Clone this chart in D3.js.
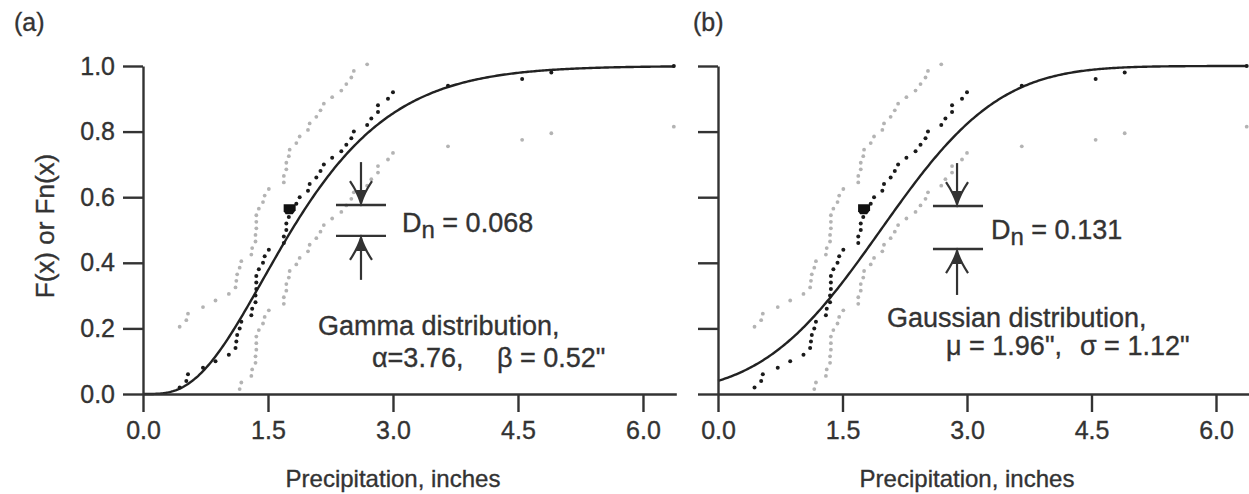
<!DOCTYPE html>
<html>
<head>
<meta charset="utf-8">
<script src="https://cdn.jsdelivr.net/npm/d3@7"></script>
<style>
  body { margin: 0; background: #fff; }
  svg { display: block; }
  text { font-family: "Liberation Sans", Arial, Helvetica, sans-serif; fill: #333; stroke: #333; stroke-width: 0.35px; }
</style>
</head>
<body>
<svg id="chart" width="1249" height="494"></svg>
<script>
// Ithaca January precipitation totals, 1933-1982 (inches)
const precipitation = [0.44, 1.18, 2.69, 2.08, 3.66, 1.72, 2.82, 0.72, 1.46, 1.30,
                       1.35, 0.54, 2.74, 1.13, 2.50, 1.72, 2.27, 2.82, 1.98, 2.44,
                       2.53, 2.00, 1.12, 2.13, 1.36, 4.90, 2.94, 1.75, 1.69, 1.88,
                       1.31, 1.76, 2.17, 2.38, 1.16, 1.39, 1.36, 1.03, 1.11, 1.35,
                       1.44, 1.84, 1.69, 3.00, 1.36, 6.37, 4.55, 0.52, 0.87, 1.51];
const xTicks = [0, 1.5, 3.0, 4.5, 6.0];
const yTicks = [0, 0.2, 0.4, 0.6, 0.8, 1.0];
const panelLabels = ["(a)", "(b)"];
const fitNames = ["Gamma distribution,", "Gaussian distribution,"];
const fitParams = [["\u03b1=3.76,", "\u03b2 = 0.52\""], ["\u03bc = 1.96\",", "\u03c3 = 1.12\""]];
const ksStats = [0.068, 0.131];
const gammaShape = 3.76, gammaScale = 0.52;
const gaussMean = 1.96, gaussSd = 1.12;
const ksBand = 0.185;        // half-width of the grey confidence band
const highlightRank = 28;    // point of maximum difference

// ---- theoretical CDFs ----
function lnGamma(z) {
  const g = 7, c = [0.99999999999980993, 676.5203681218851, -1259.1392167224028,
    771.32342877765313, -176.61502916214059, 12.507343278686905,
    -0.13857109526572012, 9.9843695780195716e-6, 1.5056327351493116e-7];
  z -= 1;
  let a = c[0];
  const t = z + g + 0.5;
  for (let i = 1; i < g + 2; i++) a += c[i] / (z + i);
  return 0.5 * Math.log(2 * Math.PI) + (z + 0.5) * Math.log(t) - t + Math.log(a);
}
function gammaCdf(x, k, theta) {
  if (x <= 0) return 0;
  const z = x / theta;
  let term = 1 / k, sum = term;
  for (let n = 1; n < 500; n++) {
    term *= z / (k + n);
    sum += term;
    if (term < sum * 1e-12) break;
  }
  return Math.min(1, sum * Math.exp(-z + k * Math.log(z) - lnGamma(k)));
}
function erf(x) {
  const s = Math.sign(x); x = Math.abs(x);
  const t = 1 / (1 + 0.3275911 * x);
  const y = 1 - (((((1.061405429 * t - 1.453152027) * t) + 1.421413741) * t - 0.284496736) * t + 0.254829592) * t * Math.exp(-x * x);
  return s * y;
}
function normalCdf(x, m, s) { return 0.5 * (1 + erf((x - m) / (s * Math.SQRT2))); }

// empirical CDF, i/n
const sorted = precipitation.slice().sort(d3.ascending);
const n = sorted.length;
const empirical = sorted.map((v, i) => ({ x: v, f: (i + 1) / n, rank: i + 1 }));

const svg = d3.select("#chart");
const y = d3.scaleLinear().domain([0, 1]).range([394, 66]);

const panels = [
  { x: d3.scaleLinear().domain([0, 6.4]).range([143, 143 + 6.4 * 83.33]),
    cdf: v => gammaCdf(v, gammaShape, gammaScale), yLabels: true,
    ann: { arrow: 2.616, bar0: 2.316, bar1: 2.916, top: 0.576, bot: 0.482, downFrom: 0.707, upTo: 0.348,
           tx: 3.108, ty: 0.494, nameX: 2.10, nameY: 0.180, p1: 2.748, p2: 4.248, pY: 0.082 } },
  { x: d3.scaleLinear().domain([0, 6.4]).range([718, 718 + 6.4 * 83.0]),
    cdf: v => normalCdf(v, gaussMean, gaussSd), yLabels: false,
    ann: { arrow: 2.88, bar0: 2.59, bar1: 3.193, top: 0.573, bot: 0.442, downFrom: 0.704, upTo: 0.302,
           tx: 3.289, ty: 0.473, nameX: 2.036, nameY: 0.204, p1: 2.747, p2: 4.361, pY: 0.119 } }
];

const curveXs = d3.range(0, 6.3901, 0.02);

panels.forEach((p, pi) => {
  const g = svg.append("g");
  const x = p.x;

  // grey confidence band dots
  const band = [];
  empirical.forEach(d => {
    const up = d.f + ksBand, lo = d.f - ksBand;
    if (up <= 1.006) band.push({ x: d.x, f: up });
    if (lo >= 0) band.push({ x: d.x, f: lo });
  });
  g.append("g").selectAll("circle").data(band).join("circle")
    .attr("cx", d => x(d.x)).attr("cy", d => y(d.f)).attr("r", 1.9)
    .attr("fill", "#b3b3b3");

  // theoretical CDF
  g.append("path")
    .datum(curveXs.map(v => [v, p.cdf(v)]))
    .attr("d", d3.line().x(d => x(d[0])).y(d => y(d[1])))
    .attr("fill", "none").attr("stroke", "#222").attr("stroke-width", 2.4);

  // empirical points
  g.append("g").selectAll("circle").data(empirical.filter(d => d.rank !== highlightRank)).join("circle")
    .attr("cx", d => x(d.x)).attr("cy", d => y(d.f)).attr("r", 2)
    .attr("fill", "#1a1a1a");
  const h = empirical[highlightRank - 1];
  g.append("path")
    .attr("d", `M${x(h.x) - 6},${y(h.f) - 6} h12 v6 l-3,4 h-7 l-2,-3 Z`)
    .attr("fill", "#111");

  // axes
  const xAxis = d3.axisBottom(x).tickValues(xTicks).tickSize(18).tickPadding(9).tickSizeOuter(0)
    .tickFormat(d3.format(".1f"));
  const gx = g.append("g").attr("transform", `translate(0,${y(0)})`).call(xAxis);
  const yAxis = d3.axisLeft(y).tickValues(yTicks).tickSize(20).tickPadding(8).tickSizeOuter(0)
    .tickFormat(p.yLabels ? d3.format(".1f") : () => "");
  const gy = g.append("g").attr("transform", `translate(${x(0)},0)`).call(yAxis);
  [gx, gy].forEach(a => {
    a.selectAll("path, line").attr("stroke", "#333").attr("stroke-width", 2.4);
    a.selectAll("text").attr("fill", "#333").style("font-size", "25px")
      .style("font-family", "'Liberation Sans', Arial, sans-serif");
  });

  // axis title
  g.append("text").attr("x", x(3.0)).attr("y", 487).attr("text-anchor", "middle")
    .style("font-size", "24px").text("Precipitation, inches");

  // panel label
  g.append("text").attr("x", pi === 0 ? 14 : 693).attr("y", 31)
    .style("font-size", "25px").text(panelLabels[pi]);

  // D_n annotation: two bars with opposing arrows
  const a = p.ann;
  const ax = x(a.arrow);
  const ink = "#333";
  [a.top, a.bot].forEach(v => {
    g.append("line").attr("x1", x(a.bar0)).attr("x2", x(a.bar1))
      .attr("y1", y(v)).attr("y2", y(v)).attr("stroke", ink).attr("stroke-width", 2.4);
  });
  function arrow(fromY, tipY) {
    const dir = tipY > fromY ? 1 : -1;
    g.append("line").attr("x1", ax).attr("x2", ax).attr("y1", fromY).attr("y2", tipY)
      .attr("stroke", ink).attr("stroke-width", 2.2);
    g.append("path")
      .attr("d", `M${ax - 11},${tipY - dir * 22} Q${ax - 3},${tipY - dir * 10} ${ax},${tipY} Q${ax + 3},${tipY - dir * 10} ${ax + 11},${tipY - dir * 22}`)
      .attr("fill", "none").attr("stroke", ink).attr("stroke-width", 2.2);
    g.append("path")
      .attr("d", `M${ax - 5},${tipY - dir * 13} L${ax},${tipY} L${ax + 5},${tipY - dir * 13} Z`)
      .attr("fill", ink);
  }
  arrow(y(a.downFrom), y(a.top) - 2);
  arrow(y(a.upTo), y(a.bot) + 2);

  const dt = g.append("text").attr("x", x(a.tx)).attr("y", y(a.ty)).style("font-size", "27px");
  dt.append("tspan").text("D");
  dt.append("tspan").attr("dy", 6).style("font-size", "24px").text("n");
  dt.append("tspan").attr("dy", -6).text(" = " + d3.format(".3f")(ksStats[pi]));

  g.append("text").attr("x", x(a.nameX)).attr("y", y(a.nameY)).style("font-size", "27px").text(fitNames[pi]);
  g.append("text").attr("x", x(a.p1)).attr("y", y(a.pY)).style("font-size", "27px").text(fitParams[pi][0]);
  g.append("text").attr("x", x(a.p2)).attr("y", y(a.pY)).style("font-size", "27px").text(fitParams[pi][1]);
});

// shared y-axis title
svg.append("text")
  .attr("transform", "translate(54,226) rotate(-90)")
  .attr("text-anchor", "middle").style("font-size", "26px")
  .text("F(x) or Fn(x)");
</script>
</body>
</html>
